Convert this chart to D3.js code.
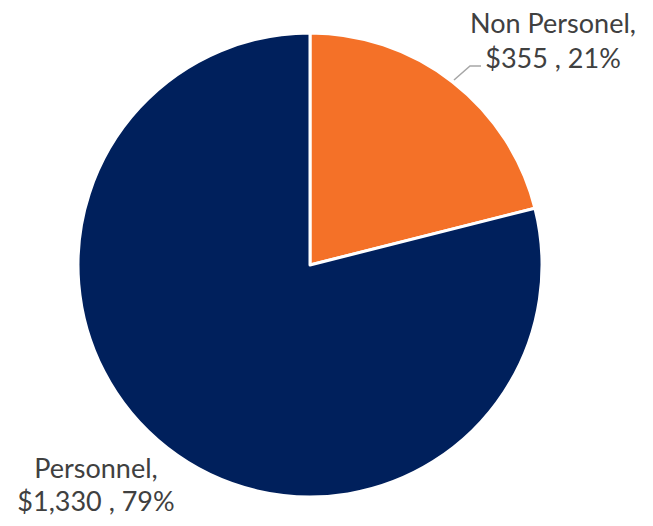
<!DOCTYPE html>
<html>
<head>
<meta charset="utf-8">
<script src="https://cdn.jsdelivr.net/npm/d3@7/dist/d3.min.js"></script>
<style>
  html, body { margin: 0; padding: 0; background: #fff; }
  svg { display: block; }
  text { font-family: Lato, "Open Sans", sans-serif; fill: #404040; }
</style>
</head>
<body>
<svg id="chart" width="653" height="526"></svg>
<script>
// Budget split
const categories = ["Non Personel", "Personnel"];
const amounts = [355, 1330];
const colors = ["#F47128", "#00205C"];

const width = 653, height = 526;
const cx = 310, cy = 265, radius = 232;

const svg = d3.select("#chart");
const g = svg.append("g").attr("transform", `translate(${cx},${cy})`);

const data = categories.map((c, i) => ({ name: c, value: amounts[i], color: colors[i] }));
const total = d3.sum(amounts);

const pie = d3.pie().value(d => d.value).sort(null);
const arc = d3.arc().innerRadius(0).outerRadius(radius);
const arcs = pie(data);

g.selectAll("path.slice")
  .data(arcs)
  .join("path")
  .attr("class", "slice")
  .attr("d", arc)
  .attr("fill", d => d.data.color)
  .attr("stroke", "#fff")
  .attr("stroke-width", 3)
  .attr("stroke-linejoin", "round");

const fmt = d3.format("$,");
const pct = v => Math.round(v / total * 100) + "%";

// label positions
const labelPos = [
  { x: 553, y1: 33, y2: 68 },
  { x: 96, y1: 478, y2: 511 }
];

arcs.forEach((a, i) => {
  const p = labelPos[i];
  const lines = [a.data.name + ",", fmt(a.data.value) + " , " + pct(a.data.value)];
  svg.selectAll(null)
    .data(lines)
    .join("text")
    .attr("x", p.x)
    .attr("y", (d, j) => j === 0 ? p.y1 : p.y2)
    .attr("text-anchor", "middle")
    .attr("font-size", 27)
    .text(d => d);
});

// leader line for the smaller slice
svg.append("polyline")
  .attr("points", [[454, 80], [470, 66], [481, 66]].map(p => p.join(",")).join(" "))
  .attr("fill", "none")
  .attr("stroke", "#A6A6A6")
  .attr("stroke-width", 1.5);
</script>
</body>
</html>
